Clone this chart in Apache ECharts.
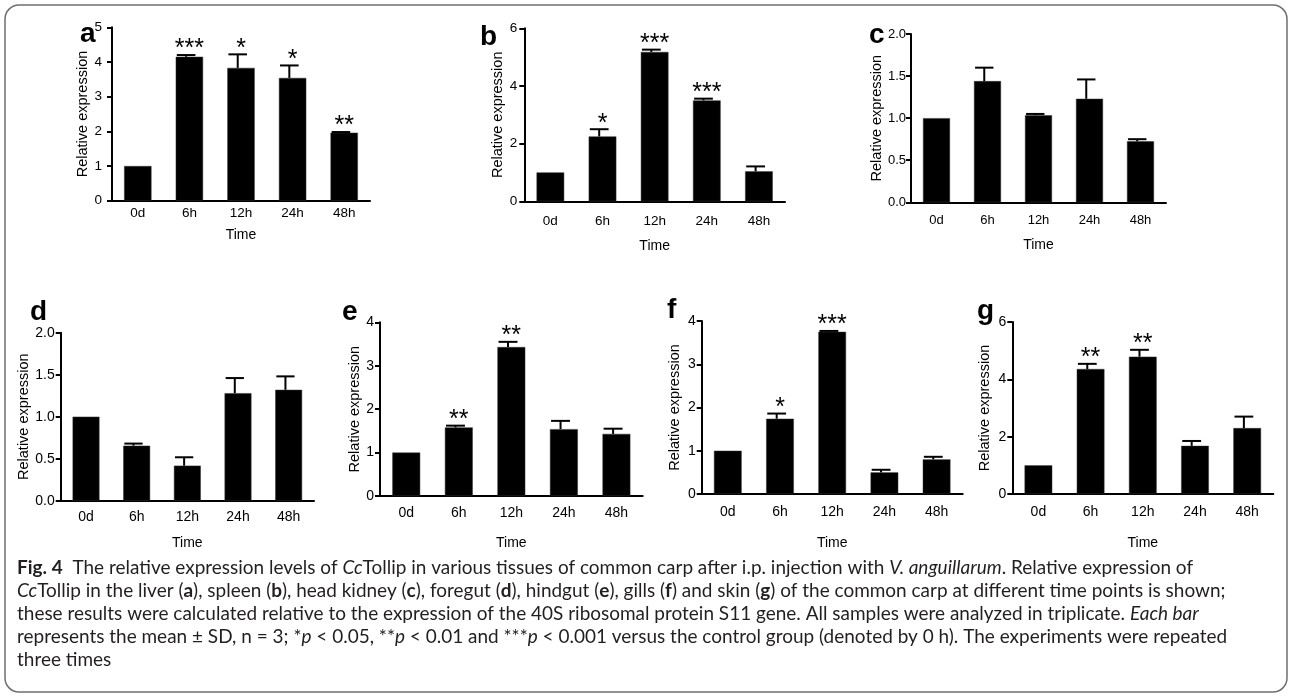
<!DOCTYPE html>
<html><head><meta charset="utf-8">
<script src="https://cdn.jsdelivr.net/npm/echarts@6.0.0/dist/echarts.min.js"></script>
<style>html,body{margin:0;padding:0;background:#fff}#c{width:1290px;height:697px}</style>
</head><body><div id="c"></div>
<script>
// ---------------- DATA ----------------
const categories = ['0d', '6h', '12h', '24h', '48h'];
const panelLetters = ['a', 'b', 'c', 'd', 'e', 'f', 'g'];
const yTitle = 'Relative expression';
const xTitle = 'Time';

// a: liver
const liverMean  = [1.00, 4.15, 3.83, 3.54, 1.96];
const liverSD    = [0, 0.05, 0.39, 0.36, 0.02];
const liverStars = ['', '***', '*', '*', '**'];
// b: spleen
const spleenMean  = [1.00, 2.25, 5.18, 3.50, 1.04];
const spleenSD    = [0, 0.25, 0.08, 0.06, 0.17];
const spleenStars = ['', '*', '***', '***', ''];
// c: head kidney
const kidneyMean  = [1.00, 1.44, 1.035, 1.23, 0.725];
const kidneySD    = [0, 0.16, 0.015, 0.23, 0.025];
const kidneyStars = ['', '', '', '', ''];
// d: foregut
const foregutMean  = [1.00, 0.655, 0.417, 1.28, 1.32];
const foregutSD    = [0, 0.025, 0.10, 0.18, 0.16];
const foregutStars = ['', '', '', '', ''];
// e: hindgut
const hindgutMean  = [1.00, 1.58, 3.43, 1.54, 1.43];
const hindgutSD    = [0, 0.04, 0.12, 0.19, 0.12];
const hindgutStars = ['', '**', '**', '', ''];
// f: gills
const gillsMean  = [1.00, 1.74, 3.75, 0.50, 0.80];
const gillsSD    = [0, 0.12, 0.02, 0.06, 0.06];
const gillsStars = ['', '*', '***', '', ''];
// g: skin
const skinMean  = [1.00, 4.36, 4.79, 1.68, 2.30];
const skinSD    = [0, 0.18, 0.24, 0.17, 0.40];
const skinStars = ['', '**', '**', '', ''];

// y axis ticks
const yMax      = [5, 6, 2, 2, 4, 4, 6];
const yInterval = [1, 2, 0.5, 0.5, 1, 1, 2];
const yDecimals = [0, 0, 1, 1, 0, 0, 0];

// caption (segments: n = normal, b = bold, i = italic)
const captionLines = [
  [['b', 'Fig. 4'], ['n', '  The relative expression levels of '], ['i', 'Cc'], ['n', 'Tollip in various tissues of common carp after i.p. injection with '], ['i', 'V. anguillarum'], ['n', '. Relative expression of']],
  [['i', 'Cc'], ['n', 'Tollip in the liver ('], ['b', 'a'], ['n', '), spleen ('], ['b', 'b'], ['n', '), head kidney ('], ['b', 'c'], ['n', '), foregut ('], ['b', 'd'], ['n', '), hindgut ('], ['b', 'e'], ['n', '), gills ('], ['b', 'f'], ['n', ') and skin ('], ['b', 'g'], ['n', ') of the common carp at different time points is shown;']],
  [['n', 'these results were calculated relative to the expression of the 40S ribosomal protein S11 gene. All samples were analyzed in triplicate. '], ['i', 'Each bar']],
  [['n', 'represents the mean \u00b1 SD, n = 3; *'], ['i', 'p'], ['n', ' < 0.05, **'], ['i', 'p'], ['n', ' < 0.01 and ***'], ['i', 'p'], ['n', ' < 0.001 versus the control group (denoted by 0 h). The experiments were repeated']],
  [['n', 'three times']]
];

// ---------------- LAYOUT / STYLE ----------------
const means = [liverMean, spleenMean, kidneyMean, foregutMean, hindgutMean, gillsMean, skinMean];
const sds   = [liverSD, spleenSD, kidneySD, foregutSD, hindgutSD, gillsSD, skinSD];
const stars = [liverStars, spleenStars, kidneyStars, foregutStars, hindgutStars, gillsStars, skinStars];

const SANS = '"Liberation Sans", Arial, Helvetica, sans-serif';
const layout = [
  {left: 112,   top: 27.3,  width: 258,   height: 173.4, lx: 80,  lb: 42,  yGap: 20, xGap: 27, xMargin: 6,  yMargin: 10, fs: 13.5},
  {left: 524.3, top: 28.3,  width: 260.7, height: 173,   lx: 480, lb: 45,  yGap: 19, xGap: 38, xMargin: 13, yMargin: 7,  fs: 13.5},
  {left: 911,   top: 34,    width: 255,   height: 168.3, lx: 869, lb: 43,  yGap: 25, xGap: 36, xMargin: 12, yMargin: 5,  fs: 13},
  {left: 60.7,  top: 332.7, width: 253.3, height: 168,   lx: 30,  lb: 320, yGap: 27, xGap: 35, xMargin: 9,  yMargin: 6,  fs: 14},
  {left: 380,   top: 322.3, width: 262.7, height: 173.7, lx: 342, lb: 320, yGap: 18, xGap: 40, xMargin: 10, yMargin: 6,  fs: 14},
  {left: 701.7, top: 321,   width: 261,   height: 173,   lx: 667, lb: 318, yGap: 19, xGap: 42, xMargin: 11, yMargin: 6,  fs: 14},
  {left: 1012.3,top: 322,   width: 261,   height: 172,   lx: 977, lb: 319, yGap: 20, xGap: 42, xMargin: 11, yMargin: 6,  fs: 14}
];
const BAR_RATIO = 0.53;
const captionStartX = 17;
const captionEndX = [1214, 1277, 1216, 1243, 103];
const captionY = [568, 591, 614, 637, 660];
const CAP_FS = 18.5;
const CAP_FONT = 'Lato';

function makeRender(st) {
  return function (params, api) {
    const j = api.value(0), m = api.value(1), s = api.value(2);
    const bw = api.size([1, 0])[0] * BAR_RATIO;
    const base = api.coord([j, m]);
    const top = api.coord([j, m + s]);
    const cx = base[0] - bw * 0.12;
    const children = [];
    if (s > 0) {
      children.push({type: 'line', shape: {x1: cx, y1: base[1], x2: cx, y2: top[1]}, style: {stroke: '#000', lineWidth: 2}});
      children.push({type: 'line', shape: {x1: cx - bw * 0.34, y1: top[1], x2: cx + bw * 0.34, y2: top[1]}, style: {stroke: '#000', lineWidth: 2}});
    }
    const t = st[params.dataIndex];
    if (t) {
      children.push({type: 'text', style: {text: t, x: base[0], y: top[1] + 7, align: 'center', verticalAlign: 'bottom', font: '25px "Liberation Sans", Arial, sans-serif', fill: '#000'}});
    }
    return {type: 'group', children: children};
  };
}

const grid = [], xAxis = [], yAxis = [], series = [], graphic = [];
layout.forEach(function (L, i) {
  grid.push({left: L.left, top: L.top, width: L.width, height: L.height, containLabel: false});
  xAxis.push({
    type: 'category', gridIndex: i, data: categories, boundaryGap: true,
    name: xTitle, nameLocation: 'middle', nameGap: L.xGap,
    nameTextStyle: {color: '#000', fontFamily: SANS, fontSize: 14},
    axisLine: {lineStyle: {color: '#000', width: 2}},
    axisTick: {alignWithLabel: true, length: 5, lineStyle: {color: '#000', width: 2}},
    axisLabel: {color: '#000', fontFamily: SANS, fontSize: L.fs, margin: L.xMargin, interval: 0},
    splitLine: {show: false}
  });
  yAxis.push({
    type: 'value', gridIndex: i, min: 0, max: yMax[i], interval: yInterval[i],
    name: yTitle, nameLocation: 'middle', nameGap: L.yGap, nameRotate: 90,
    nameTextStyle: {color: '#000', fontFamily: SANS, fontSize: 14.5},
    axisLine: {show: true, lineStyle: {color: '#000', width: 2}},
    axisTick: {show: true, length: 5, lineStyle: {color: '#000', width: 2}},
    axisLabel: {color: '#000', fontFamily: SANS, fontSize: L.fs, margin: L.yMargin,
      formatter: (function (d) { return function (v) { return v.toFixed(d); }; })(yDecimals[i])},
    splitLine: {show: false}
  });
  series.push({
    type: 'bar', xAxisIndex: i, yAxisIndex: i, data: means[i], barWidth: (BAR_RATIO * 100) + '%',
    itemStyle: {color: '#000', borderColor: '#333', borderWidth: 0.5}, silent: true, animation: false
  });
  series.push({
    type: 'custom', xAxisIndex: i, yAxisIndex: i, clip: false, silent: true, animation: false,
    data: categories.map(function (c, j) { return [j, means[i][j], sds[i][j]]; }),
    encode: {x: 0, y: 1},
    renderItem: makeRender(stars[i]), z: 3
  });
  graphic.push({
    type: 'text', silent: true,
    style: {text: panelLetters[i], x: L.lx, y: L.lb + 6, align: 'left', verticalAlign: 'bottom',
      font: 'bold 28px "Liberation Sans", Arial, sans-serif', fill: '#000'}
  });
});

// caption with rich text, scaled horizontally to the original line lengths
const mctx = document.createElement('canvas').getContext('2d');
function fontOf(k) {
  return (k === 'i' ? 'italic ' : '') + (k === 'b' ? 'bold ' : '') + CAP_FS + 'px ' + CAP_FONT;
}
const rich = {
  n: {fontFamily: CAP_FONT, fontSize: CAP_FS, fill: '#231f20', fontWeight: 'normal', fontStyle: 'normal'},
  b: {fontFamily: CAP_FONT, fontSize: CAP_FS, fill: '#231f20', fontWeight: 'bold', fontStyle: 'normal'},
  i: {fontFamily: CAP_FONT, fontSize: CAP_FS, fill: '#231f20', fontWeight: 'normal', fontStyle: 'italic'}
};
const lineWidths = captionLines.map(function (segs) {
  return segs.reduce(function (acc, s) { mctx.font = fontOf(s[0]); return acc + mctx.measureText(s[1]).width; }, 0);
});
let scaleSum = 0;
lineWidths.forEach(function (w, k) { scaleSum += (captionEndX[k] - captionStartX) / w; });
const capScale = scaleSum / lineWidths.length;
captionLines.forEach(function (segs, k) {
  graphic.push({
    type: 'text', silent: true, x: captionStartX, y: captionY[k], scaleX: capScale, scaleY: 1, originX: 0, originY: 0,
    style: {text: segs.map(function (s) { return '{' + s[0] + '|' + s[1] + '}'; }).join(''), rich: rich,
      x: 0, y: 0, align: 'left', verticalAlign: 'middle', fontFamily: CAP_FONT, fontSize: CAP_FS, fill: '#231f20'}
  });
});
// rounded frame
graphic.push({type: 'rect', silent: true, z: -1, shape: {x: 5, y: 5, width: 1282, height: 687, r: 14},
  style: {fill: 'transparent', stroke: '#6f6f6f', lineWidth: 1.5}});

const chart = echarts.init(document.getElementById('c'), null, {renderer: 'canvas'});
chart.setOption({
  animation: false,
  backgroundColor: '#fff',
  grid: grid, xAxis: xAxis, yAxis: yAxis, series: series, graphic: graphic
});
</script></body></html>
